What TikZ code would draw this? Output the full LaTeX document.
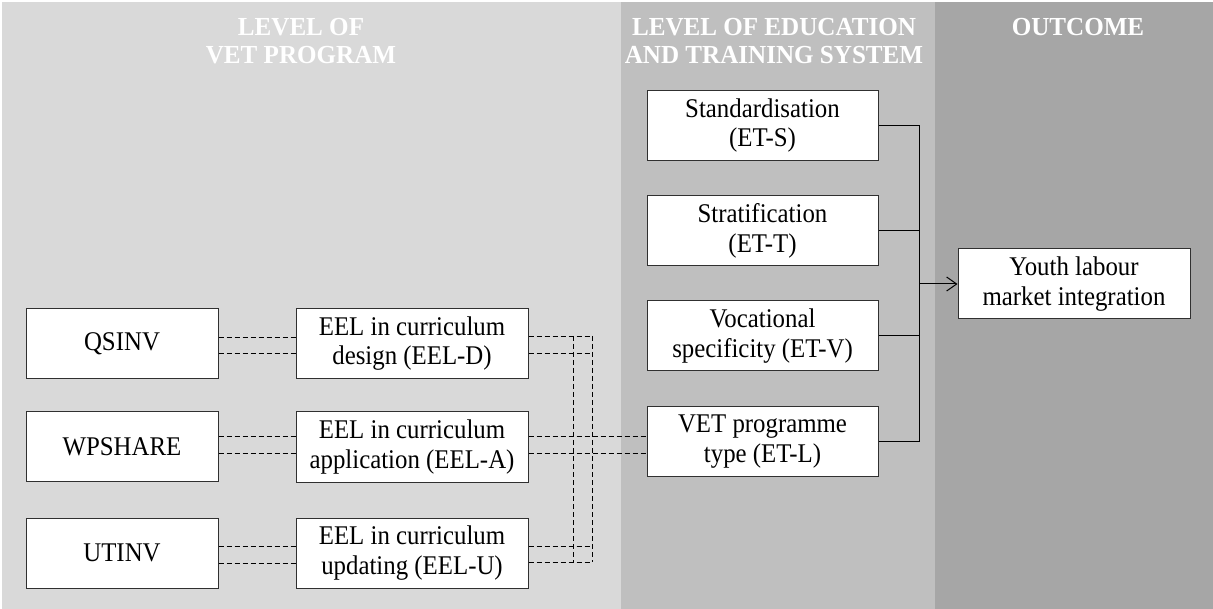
\documentclass[tikz,border=0pt]{standalone}
\usepackage{fontspec}
\setmainfont{Liberation Serif}
\newfontfamily\boxfont[FakeStretch=0.92]{Liberation Serif}
\newfontfamily\headfont[FakeStretch=0.965]{Liberation Serif}
\usetikzlibrary{arrows.meta,calc}
\definecolor{panelA}{HTML}{D9D9D9}
\definecolor{panelB}{HTML}{BFBFBF}
\definecolor{panelC}{HTML}{A6A6A6}
\definecolor{boxline}{HTML}{303030}
\tikzset{
  box/.style={draw=boxline, line width=1pt, fill=white, align=center, inner sep=0pt,
    minimum height=70pt, font=\boxfont\fontsize{27}{29.5}\selectfont},
  leftbox/.style={box, minimum width=192pt},
  eelbox/.style={box, minimum width=232pt},
  etbox/.style={box, minimum width=231pt},
  header/.style={anchor=north, inner sep=0pt, align=center, text=white,
    font=\headfont\fontsize{26}{28}\selectfont\bfseries},
  dashline/.style={draw=black, line width=0.8pt, dash pattern=on 5pt off 3pt},
  solidline/.style={draw=black, line width=1pt},
}
\begin{document}
\begin{tikzpicture}[x=1pt,y=-1pt]
\useasboundingbox (0,0) rectangle (1213,609);
\fill[white] (0,0) rectangle (1213,609);
\fill[panelA] (2,2) rectangle (621,609);
\fill[panelB] (621,2) rectangle (935,609);
\fill[panelC] (935,2) rectangle (1213,609);

\node[header] (h1) at (301,18) {LEVEL OF\\VET PROGRAM};
\node[header] (h2) at (774,18) {LEVEL OF EDUCATION\\AND TRAINING SYSTEM};
\node[header] (h3) at (1078,18) {OUTCOME};

\node[leftbox] (q) at (122,343.5) {QSINV};
\node[leftbox] (w) at (122,446.5) {WPSHARE};
\node[leftbox] (u) at (122,553) {UTINV};

\node[eelbox] (ed) at (412,343.5) {EEL in curriculum\\design (EEL-D)};
\node[eelbox] (ea) at (412,447) {EEL in curriculum\\application (EEL-A)};
\node[eelbox] (eu) at (412,553) {EEL in curriculum\\updating (EEL-U)};

\node[etbox] (s) at (762.5,125.5) {Standardisation\\(ET-S)};
\node[etbox] (t) at (762.5,231) {Stratification\\(ET-T)};
\node[etbox] (v) at (762.5,336) {Vocational\\specificity (ET-V)};
\node[etbox] (l) at (762.5,441.5) {VET programme\\type (ET-L)};

\node[eelbox] (y) at (1074,284) {Youth labour\\market integration};

\coordinate (va) at (573,0);
\coordinate (vb) at (592,0);
\coordinate (bus) at (919,282);

% left dashed double links
\draw[dashline] (q.east |- 0,337) -- (ed.west |- 0,337);
\draw[dashline] (q.east |- 0,353) -- (ed.west |- 0,353);
\draw[dashline] (w.east |- 0,436) -- (ea.west |- 0,436);
\draw[dashline] (w.east |- 0,453) -- (ea.west |- 0,453);
\draw[dashline] (u.east |- 0,546) -- (eu.west |- 0,546);
\draw[dashline] (u.east |- 0,563) -- (eu.west |- 0,563);

% right dashed links
\draw[dashline] (ed.east |- 0,336) -- (vb |- 0,336);
\draw[dashline] (ed.east |- 0,353) -- (vb |- 0,353);
\draw[dashline] (eu.east |- 0,546) -- (vb |- 0,546);
\draw[dashline] (eu.east |- 0,562) -- (vb |- 0,562);
\draw[dashline] (va |- 0,336) -- (va |- 0,562);
\draw[dashline] (vb |- 0,336) -- (vb |- 0,562);
\draw[dashline] (ea.east |- 0,436) -- (l.west |- 0,436);
\draw[dashline] (ea.east |- 0,453) -- (l.west |- 0,453);

% solid bus
\draw[solidline] (s.east) -- (s.east -| bus) -- (l.east -| bus) -- (l.east);
\draw[solidline] (t.east) -- (t.east -| bus);
\draw[solidline] (v.east) -- (v.east -| bus);
\draw[solidline, -{Straight Barb[length=10pt,width=14pt,line width=1pt]}] (bus |- y.west) -- (y.west);
\end{tikzpicture}
\end{document}
